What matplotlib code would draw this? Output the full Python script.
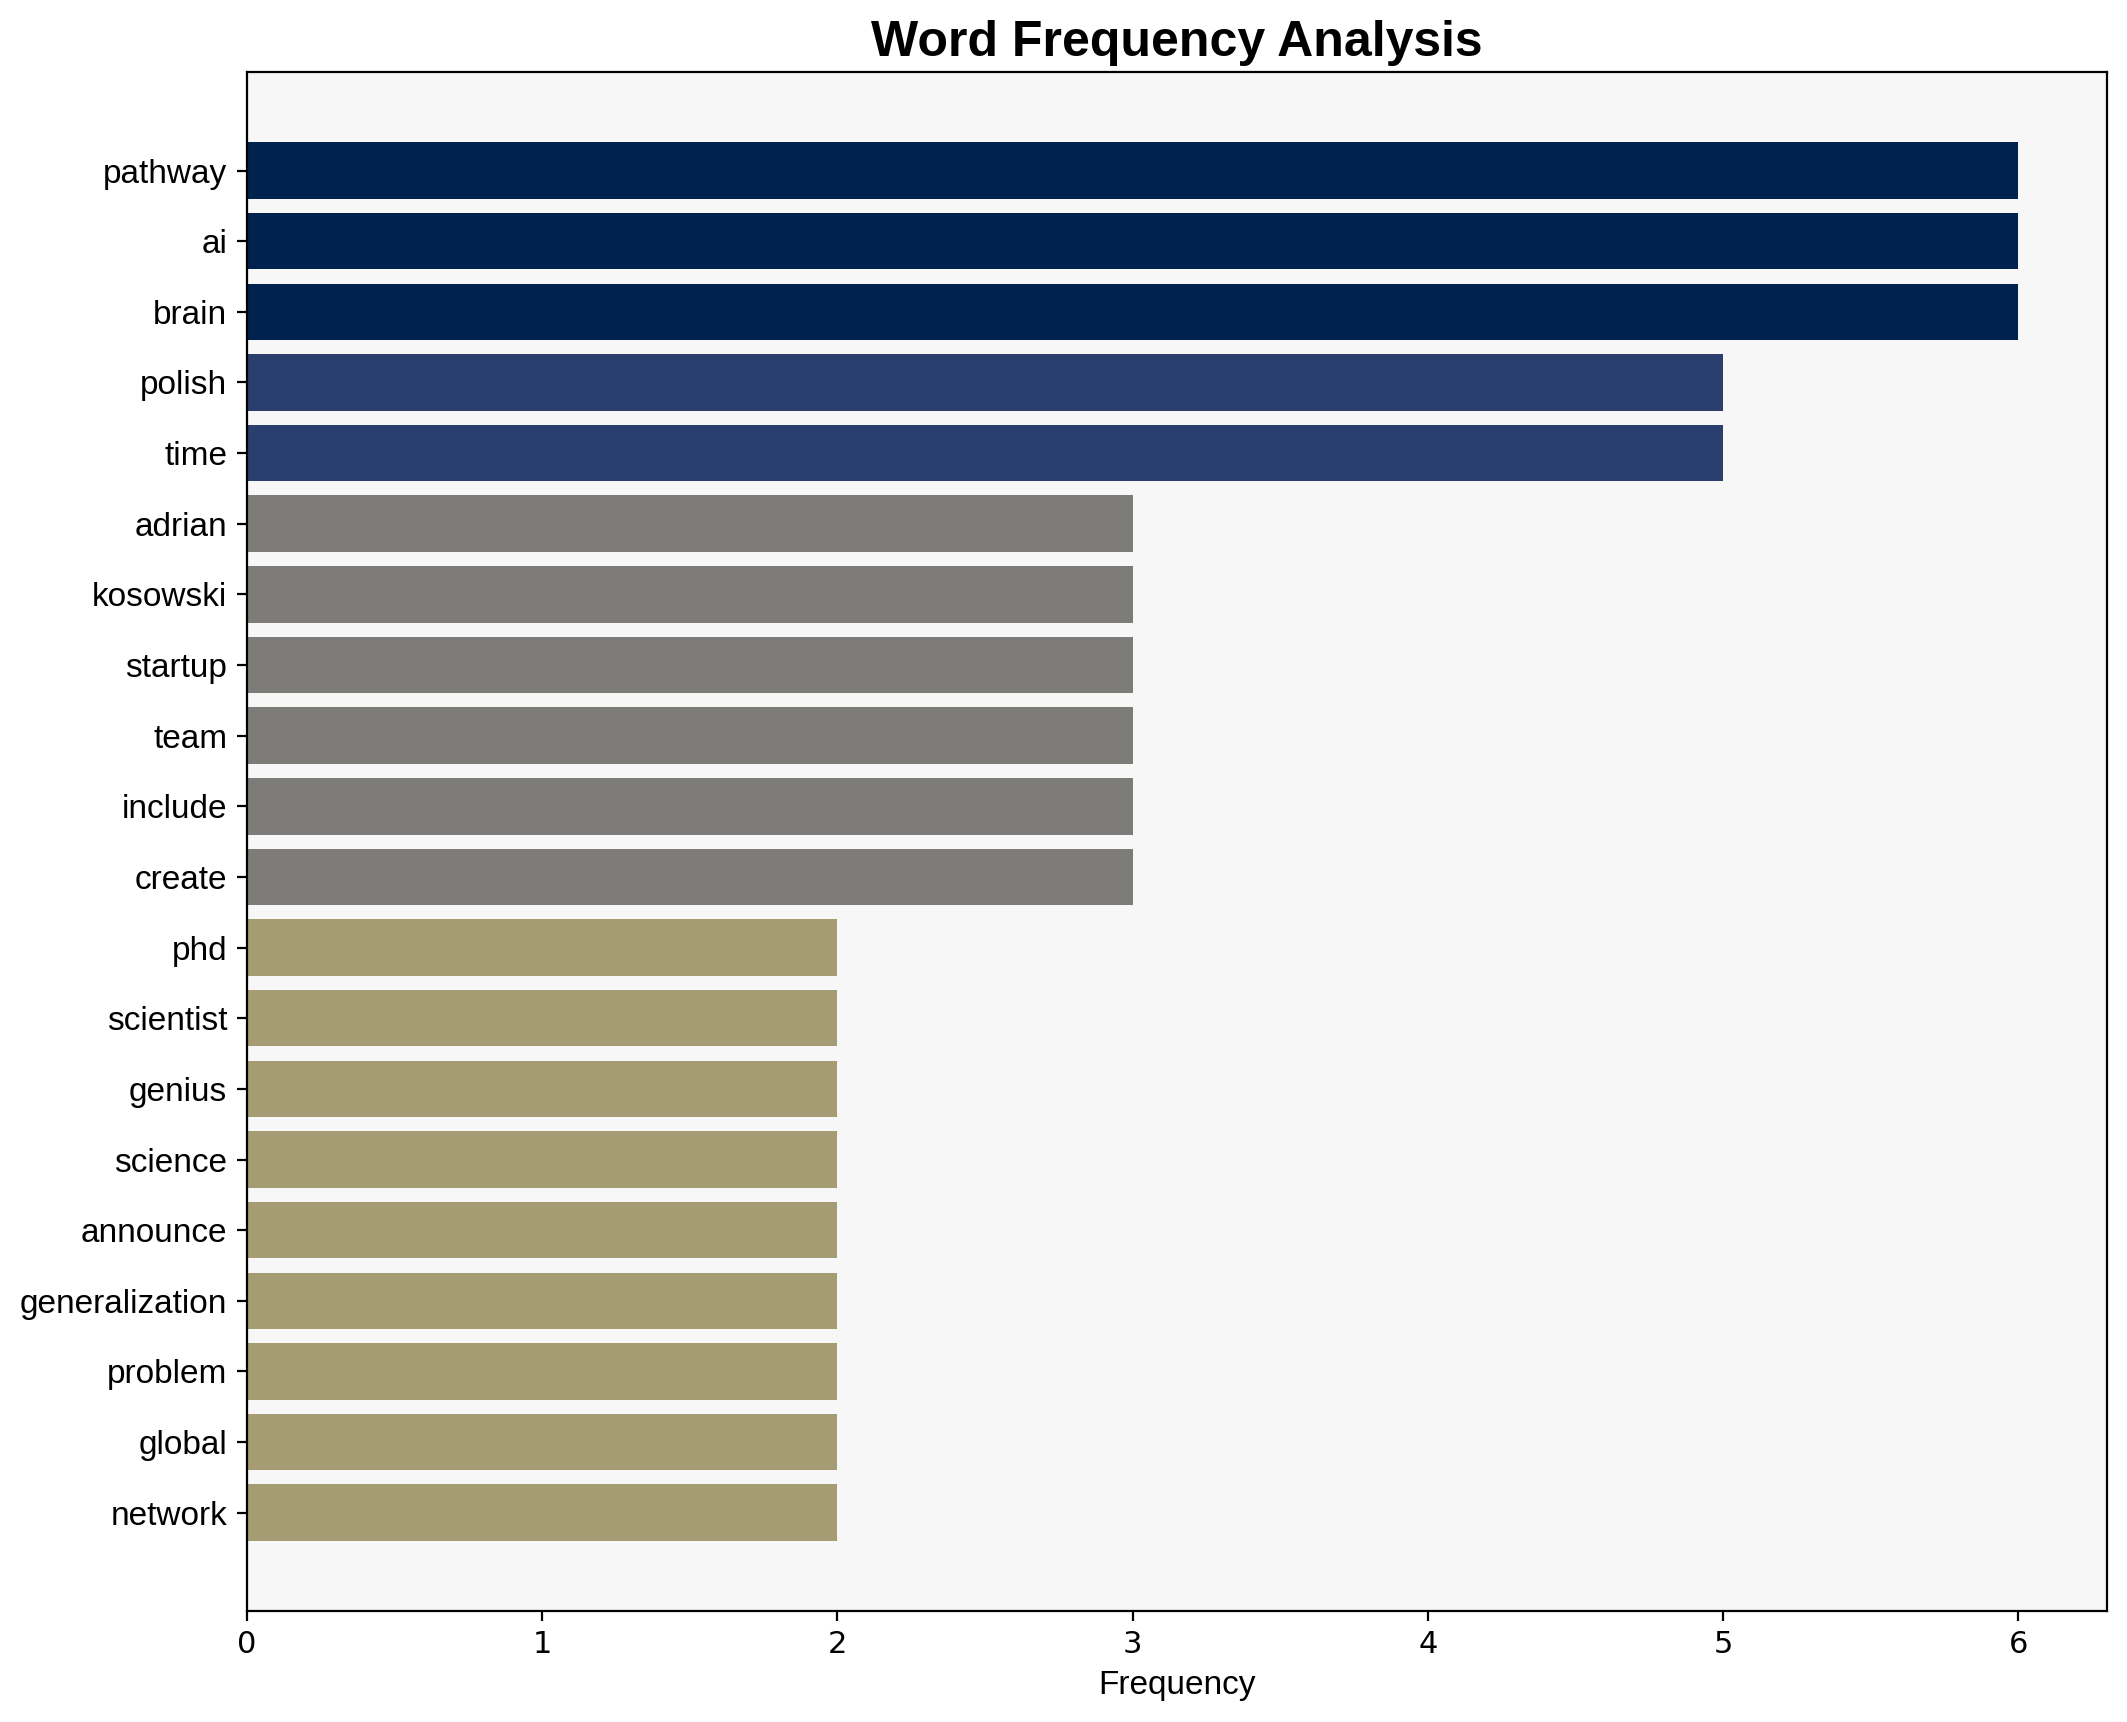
import matplotlib
matplotlib.use("Agg")
import matplotlib.pyplot as plt
import numpy as np

words = ["pathway", "ai", "brain", "polish", "time", "adrian", "kosowski",
         "startup", "team", "include", "create", "phd", "scientist", "genius",
         "science", "announce", "generalization", "problem", "global", "network"]
counts = [6, 6, 6, 5, 5, 3, 3, 3, 3, 3, 3, 2, 2, 2, 2, 2, 2, 2, 2, 2]

plt.rcParams['font.family'] = ['Liberation Sans', 'DejaVu Sans']

fig = plt.figure(figsize=(10.635, 8.61), dpi=200)
ax = fig.add_axes([0.116, 0.0645, 0.8746, 0.8935])
ax.set_facecolor('#f7f7f7')

vals = np.array(counts, dtype=float)
colors = plt.cm.cividis(1 - vals / vals.max())
y = np.arange(len(words))
ax.barh(y, vals, color=colors, height=0.8)
ax.set_yticks(y)
ax.set_yticklabels(words, fontsize=12)
ax.invert_yaxis()

ax.set_xlabel("Frequency", fontsize=12)
ax.set_title("Word Frequency Analysis", fontsize=18, fontweight='bold')
for lab in ax.get_xticklabels():
    lab.set_fontfamily('DejaVu Sans')
    lab.set_fontsize(11)

fig.savefig("out.png", dpi=200)
